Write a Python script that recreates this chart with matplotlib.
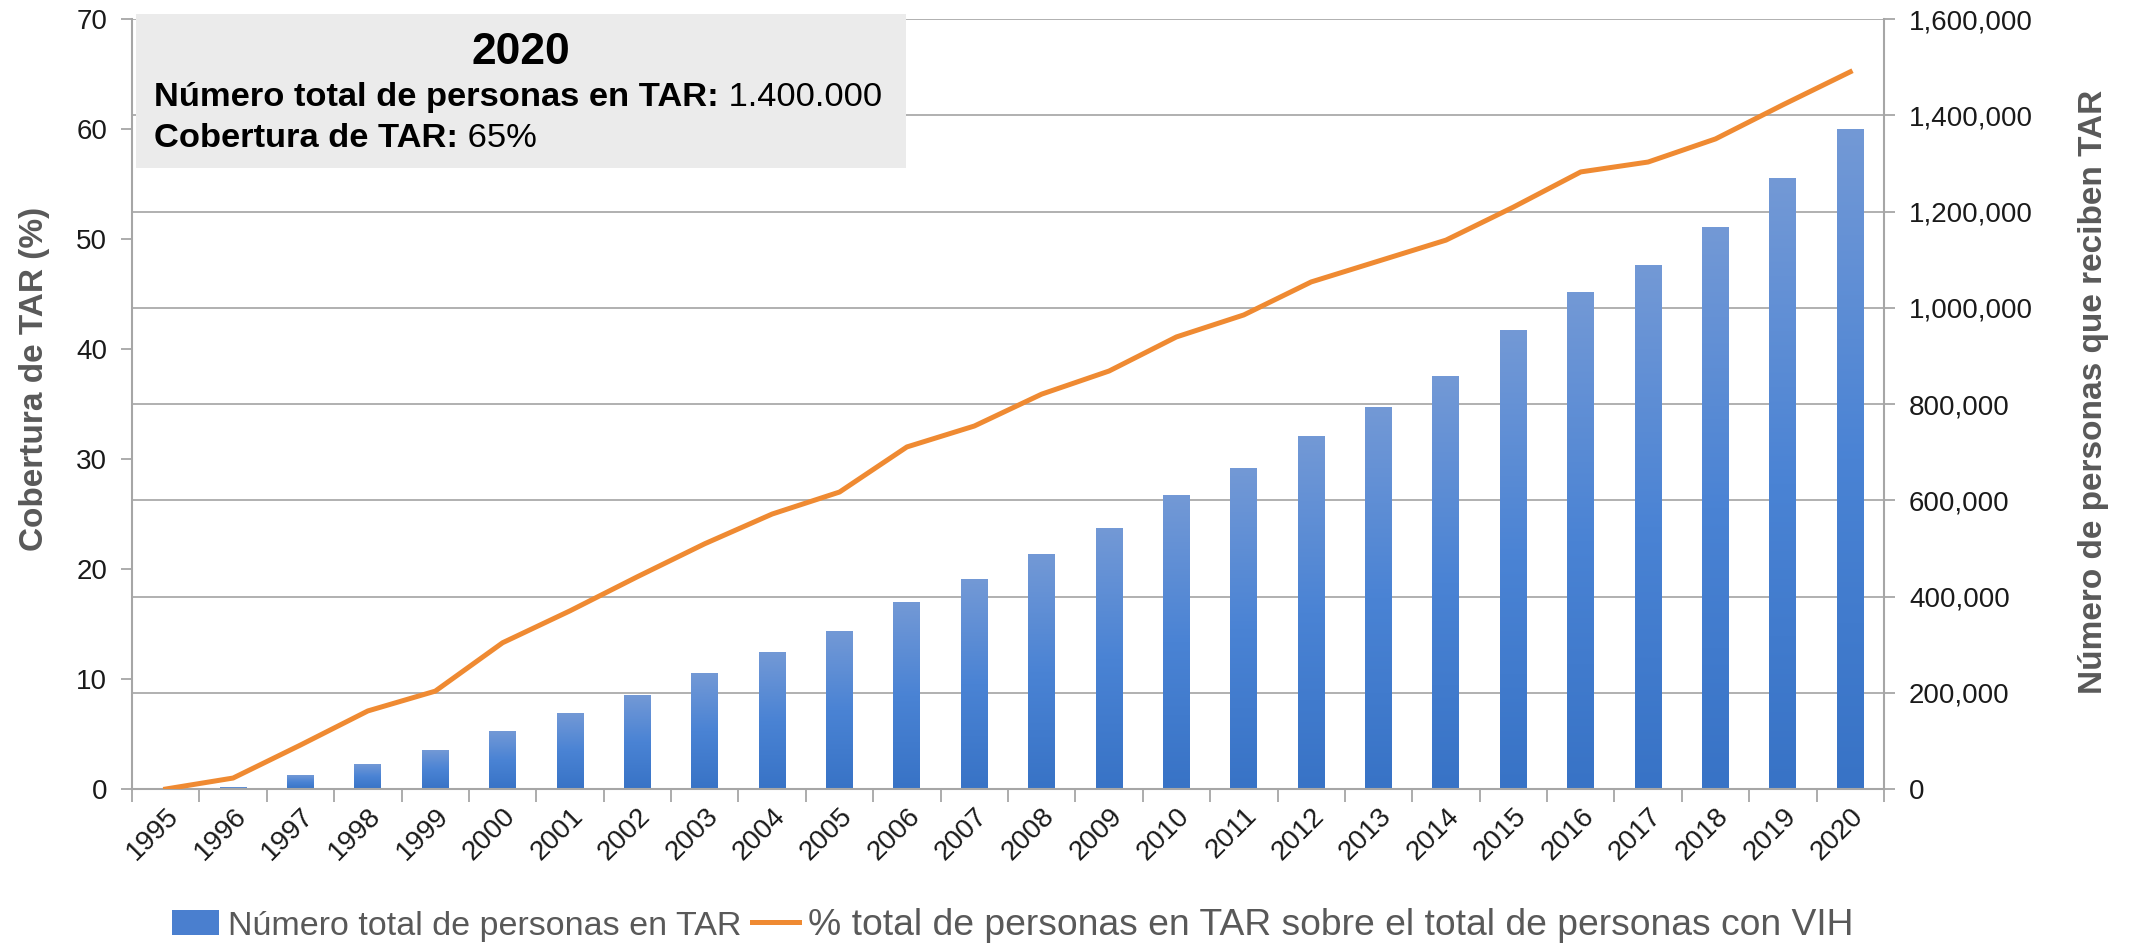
import matplotlib
matplotlib.use("Agg")
import matplotlib.pyplot as plt
import numpy as np
from matplotlib.patches import Patch, Rectangle
from matplotlib.lines import Line2D
from matplotlib.colors import LinearSegmentedColormap
from matplotlib.ticker import FuncFormatter, MultipleLocator, FixedLocator

plt.rcParams['font.family'] = ['Liberation Sans', 'DejaVu Sans']

years = [str(y) for y in range(1995, 2021)]
personas_tar = [0, 4000, 28000, 51000, 79000, 119000, 156000, 195000, 241000, 283000,
                328000, 388000, 436000, 487000, 541000, 609000, 666000, 733000, 793000,
                858000, 952000, 1031000, 1088000, 1167000, 1268000, 1370000]
cobertura = [0.0, 1.0, 4.0, 7.1, 8.9, 13.3, 16.2, 19.3, 22.3, 25.0, 27.0, 31.1, 33.0,
             35.9, 38.0, 41.1, 43.1, 46.1, 48.0, 49.9, 52.9, 56.1, 57.0, 59.1, 62.2, 65.2]

legend_labels = ["Número total de personas en TAR",
                 "% total de personas en TAR sobre el total de personas con VIH"]
ylabel_left = "Cobertura de TAR (%)"
ylabel_right = "Número de personas que reciben TAR"
box_title = "2020"
box_line1 = ("Número total de personas en TAR:", " 1.400.000")
box_line2 = ("Cobertura de TAR:", " 65%")

GRID = '#b0b0b0'
AXC = '#a6a6a6'
TXT = '#1a1a1a'
LAB = '#595959'
ORANGE = '#ef8a32'

fig = plt.figure(figsize=(21.36, 9.51), dpi=100)
ax = fig.add_axes([0.0618, 0.1703, 0.8202, 0.8097])
ax2 = ax.twinx()
ax.set_zorder(ax2.get_zorder() + 1)
ax.patch.set_visible(False)

x = np.arange(len(years))

# bars (right axis) with vertical gradient
cmap = LinearSegmentedColormap.from_list('g', ['#3873c6', '#4a83d4', '#7399d6'])
grad = np.linspace(0, 1, 256).reshape(-1, 1)
bars = ax2.bar(x, personas_tar, width=0.4, color='none', edgecolor='none', zorder=1)
for b in bars:
    h = b.get_height()
    if h <= 0:
        continue
    ax2.imshow(grad, extent=(b.get_x(), b.get_x() + b.get_width(), 0, h),
               aspect='auto', origin='lower', cmap=cmap, zorder=1, interpolation='bilinear')

ax2.set_xlim(-0.5, len(years) - 0.5)
ax2.set_ylim(0, 1600000)
ax2.yaxis.set_major_locator(MultipleLocator(200000))
ax2.yaxis.set_major_formatter(FuncFormatter(lambda v, p: f"{int(v):,}"))
ax2.yaxis.grid(True, color=GRID, lw=1.4)
ax2.set_axisbelow(True)
ax2.tick_params(axis='y', direction='out', length=8, width=1.3, color=AXC,
                labelsize=20, labelcolor=TXT, pad=10)
for s in ['top', 'left', 'bottom']:
    ax2.spines[s].set_visible(False)
ax2.spines['right'].set_color(AXC)
ax2.spines['right'].set_linewidth(1.5)
ax2.set_ylabel(ylabel_right, fontsize=24, fontweight='bold', color=LAB)
ax2.yaxis.set_label_coords(1.111, 0.516)

# line (left axis)
ax.plot(x, cobertura, color=ORANGE, lw=3.6, solid_joinstyle='round', zorder=3)
ax.set_xlim(-0.5, len(years) - 0.5)
ax.set_ylim(0, 70)
ax.yaxis.set_major_locator(MultipleLocator(10))
ax.tick_params(axis='y', direction='out', length=8, width=1.3, color=AXC,
               labelsize=20, labelcolor=TXT, pad=10)
ax.set_xticks(x)
ax.set_xticklabels(years, rotation=45, ha='right', rotation_mode='anchor')
ax.tick_params(axis='x', which='major', length=0, labelsize=20, labelcolor=TXT, pad=10)
ax.xaxis.set_minor_locator(FixedLocator(np.arange(-0.5, len(years), 1.0)))
ax.tick_params(axis='x', which='minor', direction='out', length=9, width=1.3, color=AXC)
for s in ['top', 'right']:
    ax.spines[s].set_visible(False)
for s in ['left', 'bottom']:
    ax.spines[s].set_color(AXC)
    ax.spines[s].set_linewidth(1.5)
ax.set_ylabel(ylabel_left, fontsize=24, fontweight='bold', color=LAB)
ax.yaxis.set_label_coords(-0.047, 0.532)

# info box
fig.add_artist(Rectangle((0.0637, 0.823), 0.3605, 0.162, transform=fig.transFigure,
                         facecolor='#ebebeb', edgecolor='none', zorder=5))
fig.text(0.244, 0.945, box_title, fontsize=32, fontweight='bold', color='black',
         ha='center', va='center', zorder=6)
fig.canvas.draw()
renderer = fig.canvas.get_renderer()
for (bold_t, reg_t), yy in [(box_line1, 0.897), (box_line2, 0.854)]:
    t1 = fig.text(0.072, yy, bold_t, fontsize=24.8, fontweight='bold', color='black',
                  ha='left', va='center', zorder=6)
    bb = t1.get_window_extent(renderer=renderer)
    x1 = bb.x1 / fig.bbox.width
    fig.text(x1, yy, reg_t, fontsize=24.8, color='black', ha='left', va='center', zorder=6)

# legend
handles = [Patch(facecolor='#4a7fcf', edgecolor='none'),
           Line2D([0], [0], color=ORANGE, lw=3.6)]
leg = fig.legend(handles, legend_labels, loc='center', bbox_to_anchor=(0.474, 0.027),
                 ncol=2, frameon=False, fontsize=26, handlelength=1.3, handletextpad=0.25,
                 columnspacing=0.3, labelcolor=LAB, borderpad=0.1)
leg.get_texts()[0].set_fontsize(24.5)
leg.get_texts()[1].set_fontsize(26.8)

fig.savefig('out.png', dpi=100)
